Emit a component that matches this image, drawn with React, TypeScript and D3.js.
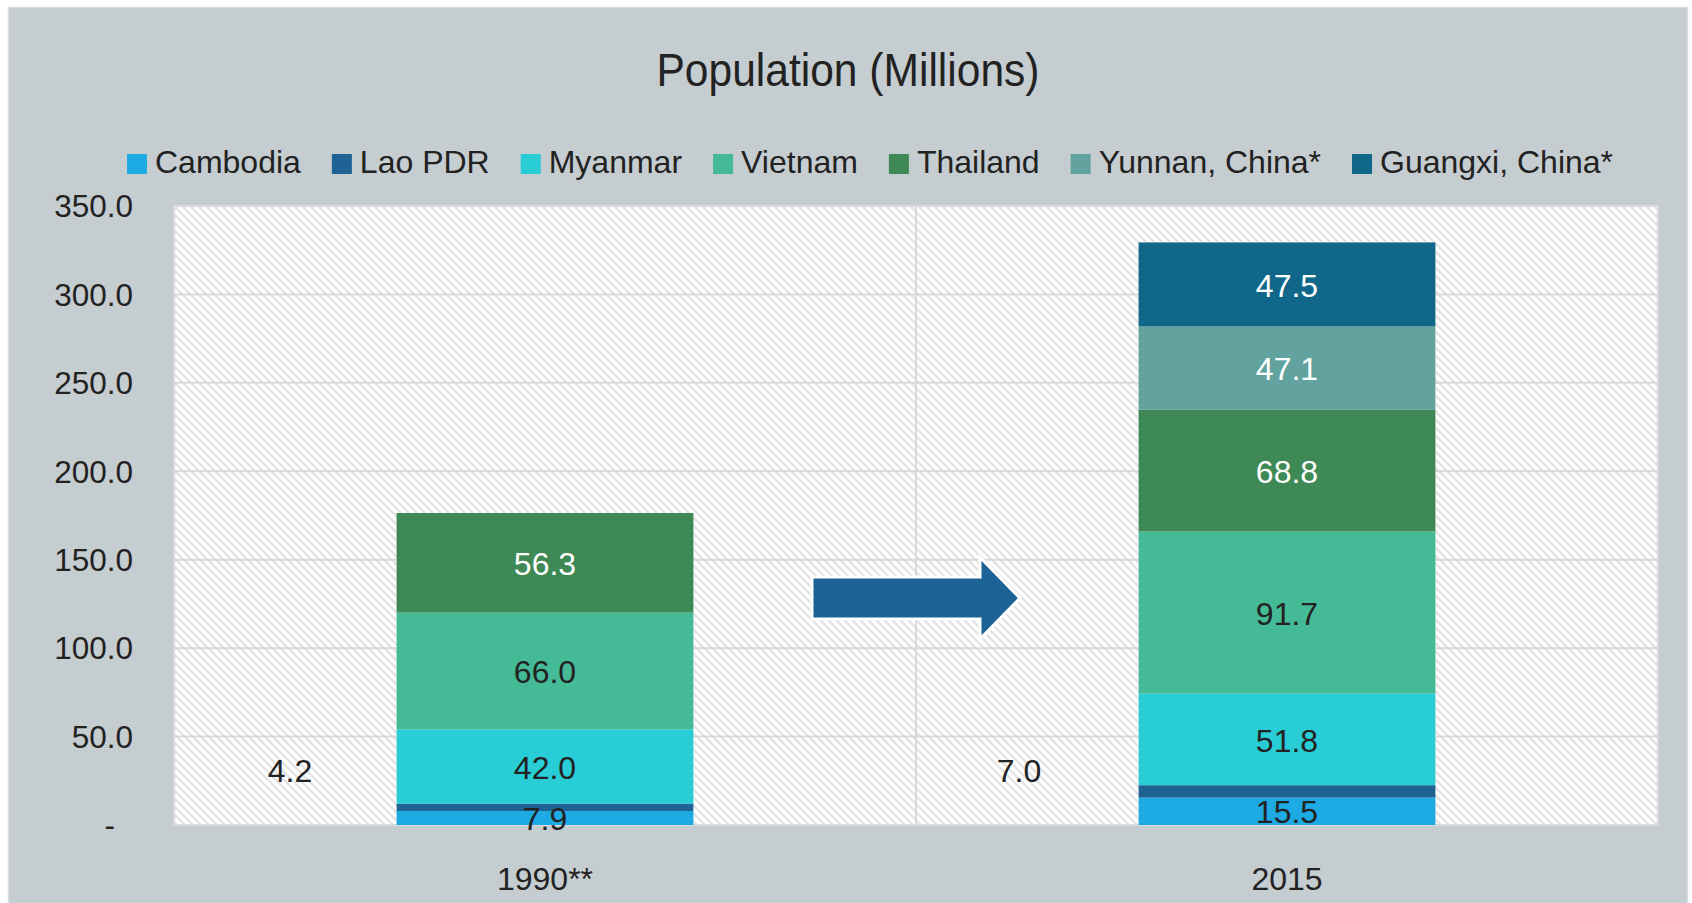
import { useEffect } from "react";
import * as d3 from "d3";

const categories = ["1990**", "2015"];
const seriesNames = ["Cambodia", "Lao PDR", "Myanmar", "Vietnam", "Thailand", "Yunnan, China*", "Guangxi, China*"];
const cambodia = [7.9, 15.5];
const laoPdr = [4.2, 7.0];
const myanmar = [42.0, 51.8];
const vietnam = [66.0, 91.7];
const thailand = [56.3, 68.8];
const yunnan = [0, 47.1];
const guangxi = [0, 47.5];
const yTicks = [0, 50, 100, 150, 200, 250, 300, 350];

const colors = ["#1eaae2", "#1f6294", "#29cdd6", "#44bb96", "#3e8956", "#63a39f", "#10678a"];
const whiteLabel = [false, false, false, false, true, true, true];

const FONT = "'Liberation Sans', Arial, sans-serif";
const INK = "#222222";

function measure(text: string, size: number) {
	const ctx = document.createElement("canvas").getContext("2d");
	if (!ctx) return text.length * size * 0.55;
	ctx.font = `${size}px 'Liberation Sans', Arial, sans-serif`;
	return ctx.measureText(text).width;
}

export default function App() {
	useEffect(() => {
		document.body.style.margin = "0";
	}, []);

	const width = 1692;
	const height = 903;
	const plot = { left: 174, right: 1658, top: 206, bottom: 825 };

	// ---- Data ----
	const values = [cambodia, laoPdr, myanmar, vietnam, thailand, yunnan, guangxi];
	const rows = categories.map((c, i) => {
		const r: any = { cat: c };
		seriesNames.forEach((s, k) => (r[s] = values[k][i]));
		return r;
	});
	const stacked = d3.stack().keys(seriesNames)(rows);

	// ---- Scales ----
	const x = d3.scaleBand().domain(categories).range([plot.left, plot.right]).paddingInner(0.6).paddingOuter(0.3);
	const y = d3.scaleLinear().domain([0, 350]).range([plot.bottom, plot.top]);
	const cx = (c: string) => (x(c) as number) + x.bandwidth() / 2;
	const midX = (cx(categories[0]) + cx(categories[1])) / 2;

	// ---- Arrow ----
	const ay = y(128.3);
	const half = 104;
	const arrow: [number, number][] = [
		[midX - half, ay - 21],
		[midX + half - 40, ay - 21],
		[midX + half - 40, ay - 41],
		[midX + half, ay],
		[midX + half - 40, ay + 41],
		[midX + half - 40, ay + 21],
		[midX - half, ay + 21],
	];

	// ---- Legend layout ----
	let lx = 127;
	const legendItems = seriesNames.map((s, k) => {
		const item = { s, k, x: lx };
		lx += 28 + measure(s, 32) + 31;
		return item;
	});

	return (
		<svg width={width} height={height} style={{ display: "block", fontFamily: FONT }}>
			<defs>
				<pattern id="hatch" patternUnits="userSpaceOnUse" width={8} height={8}>
					<rect width={8} height={8} fill="#ffffff" />
					<path d="M-2,-2 L10,10 M-2,6 L2,10 M6,-2 L10,2" stroke="#e3e3e3" strokeWidth={2.3} />
				</pattern>
			</defs>

			{/* panel */}
			<rect x={8.5} y={7.5} width={1679} height={900} fill="#c5cdd0" stroke="#dcdfe0" strokeWidth={1.5} />

			{/* plot area */}
			<rect
				x={plot.left}
				y={plot.top}
				width={plot.right - plot.left}
				height={plot.bottom - plot.top}
				fill="url(#hatch)"
				stroke="#dadada"
				strokeWidth={2}
			/>
			{yTicks.slice(1, -1).map((t) => (
				<line key={t} x1={plot.left} x2={plot.right} y1={y(t)} y2={y(t)} stroke="#d9d9d9" strokeWidth={2} />
			))}
			<line x1={midX} x2={midX} y1={plot.top} y2={plot.bottom} stroke="#d9d9d9" strokeWidth={2} />

			{/* y labels */}
			{yTicks.map((t) => (
				<text
					key={t}
					x={t === 0 ? 115 : 133}
					y={y(t)}
					dy="0.36em"
					textAnchor="end"
					fontSize={31.5}
					fill={INK}
				>
					{t === 0 ? "-" : t.toFixed(1)}
				</text>
			))}

			{/* bars */}
			{stacked.map((layer, k) =>
				layer
					.filter((d) => d[1] - d[0] > 0)
					.map((d) => (
						<rect
							key={`${k}-${d.data.cat}`}
							x={x(d.data.cat as string)}
							y={y(d[1])}
							width={x.bandwidth()}
							height={y(d[0]) - y(d[1])}
							fill={colors[k]}
						/>
					))
			)}

			{/* data labels */}
			{stacked.map((layer, k) =>
				layer
					.filter((d) => d[1] - d[0] > 0)
					.map((d, i) => (
						<text
							key={`l${k}-${d.data.cat}`}
							x={k === 1 ? cx(d.data.cat as string) - (i === 0 ? 255 : 268) : cx(d.data.cat as string)}
							y={k === 1 ? y(31) : y((d[0] + d[1]) / 2)}
							dy="0.38em"
							textAnchor="middle"
							fontSize={32}
							fill={whiteLabel[k] ? "#ffffff" : INK}
						>
							{(d[1] - d[0]).toFixed(1)}
						</text>
					))
			)}

			{/* x labels */}
			{categories.map((c) => (
				<text key={c} x={cx(c)} y={890} textAnchor="middle" fontSize={32} fill={INK}>
					{c}
				</text>
			))}

			{/* arrow */}
			<path d={d3.line()(arrow) + "Z"} fill="#1d6396" stroke="#ffffff" strokeWidth={3} />

			{/* title */}
			<text
				x={848}
				y={86}
				textAnchor="middle"
				fontSize={46}
				textLength={383}
				lengthAdjust="spacingAndGlyphs"
				fill={INK}
			>
				Population (Millions)
			</text>

			{/* legend */}
			{legendItems.map((it) => (
				<g key={it.s}>
					<rect x={it.x} y={154} width={20} height={20} fill={colors[it.k]} />
					<text x={it.x + 28} y={173} fontSize={32} fill={INK}>
						{it.s}
					</text>
				</g>
			))}
		</svg>
	);
}
